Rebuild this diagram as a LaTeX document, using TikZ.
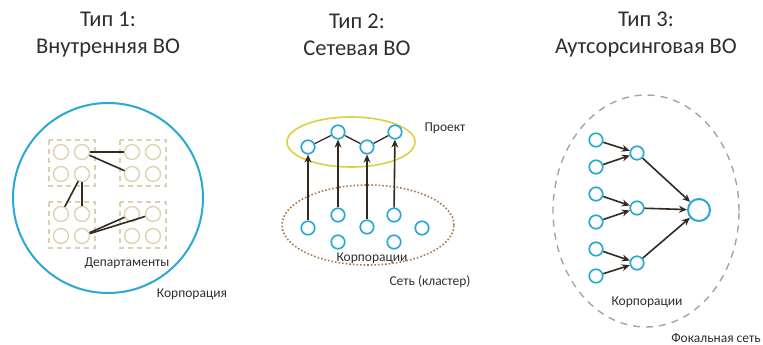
\documentclass[tikz,border=0pt]{standalone}
\usepackage{fontspec}
\setmainfont{Carlito}
\usetikzlibrary{arrows.meta}

\definecolor{cyanln}{HTML}{2AA8D2}
\definecolor{beigeln}{HTML}{DDD0AC}
\definecolor{darkln}{HTML}{35281F}
\definecolor{yellowln}{HTML}{DAD13E}
\definecolor{brownln}{HTML}{A97A4A}
\definecolor{greyln}{HTML}{A9A29D}
\definecolor{textc}{HTML}{2E2E2E}

\begin{document}
\begin{tikzpicture}[x=1pt, y=-1pt,
  title/.style={font=\fontsize{22.5}{27}\selectfont, align=center, text=textc},
  lbl/.style={font=\fontsize{13.5}{16}\selectfont, text=textc},
  unit/.style={circle, draw=cyanln, line width=1.7pt, minimum size=13.5pt, inner sep=0pt},
  dept/.style={circle, draw=beigeln, line width=1.3pt, minimum size=15pt, inner sep=0pt},
  link/.style={draw=darkln, line width=1.6pt},
  flow/.style={link, -{Stealth[length=8pt, width=7pt]}},
]
  \useasboundingbox (0,0) rectangle (763,345);
  % titles
  \node[title] (t1) at (108,35) {Тип 1:\\Внутренняя ВО};
  \node[title] (t2) at (357,35) {Тип 2:\\Сетевая ВО};
  \node[title] (t3) at (646,35) {Тип 3:\\Аутсорсинговая ВО};

  % Type 1: corporation with departments
  \draw[cyanln, line width=2pt] (108,198) circle [radius=95pt];
  \foreach \g/\ox/\oy in {A/61/152, B/132/152, C/61/214, D/132/214} {
    \draw[beigeln, line width=1.2pt, dash pattern=on 5pt off 4pt]
          (\ox-12,\oy-12) rectangle (\ox+34,\oy+34);
    \foreach \i in {1,2}
      \foreach \j in {1,2}
        \node[dept] (\g\i\j) at (\ox+21*\j-21, \oy+22*\i-22) {};
  }
  \draw[link] (A12) -- (B11);
  \draw[link] (A12) -- (B21);
  \draw[link] (A22) -- (C11);
  \draw[link] (A22) -- (C12);
  \draw[link] (C22) -- (D11);
  \draw[link] (C22) -- (D12);
  \node[lbl] (dep) at (127,263) {Департаменты};
  \node[lbl] (corp) at (192,294) {Корпорация};

  % Type 2: network, project
  \draw[yellowln, line width=1.6pt] (351,142) ellipse [x radius=64pt, y radius=25pt];
  \draw[brownln, line width=1.6pt, dotted] (368,225) ellipse [x radius=86pt, y radius=40pt];
  \node[unit] (p1) at (308,147) {};
  \node[unit] (p2) at (338,132) {};
  \node[unit] (p3) at (367,147) {};
  \node[unit] (p4) at (395,132) {};
  \draw[link, line width=1.3pt] (p1) -- (p2) -- (p3) -- (p4);
  \node[unit] (c1) at (308,228) {};
  \node[unit] (c2) at (338,215) {};
  \node[unit] (c3) at (338,242) {};
  \node[unit] (c4) at (367,227) {};
  \node[unit] (c5) at (394,215) {};
  \node[unit] (c6) at (394,242) {};
  \node[unit] (c7) at (422,228) {};
  \draw[flow] (c1) -- (p1);
  \draw[flow] (c2) -- (p2);
  \draw[flow] (c4) -- (p3);
  \draw[flow] (c5) -- (p4);
  \node[lbl] (proj) at (445,128) {Проект};
  \node[lbl] (corps2) at (372,258) {Корпорации};
  \node[lbl] (net) at (430,282) {Сеть (кластер)};

  % Type 3: focal network
  \draw[greyln, line width=1.4pt, dash pattern=on 7pt off 6pt] (646,211) ellipse [x radius=93pt, y radius=116pt];
  \foreach \k/\ly in {1/140, 2/167, 3/194, 4/222, 5/249, 6/276}
    \node[unit] (l\k) at (596,\ly) {};
  \node[unit] (m1) at (637,153) {};
  \node[unit] (m2) at (637,208) {};
  \node[unit] (m3) at (637,263) {};
  \node[unit, minimum size=22pt, line width=2pt] (foc) at (699,210) {};
  \draw[flow] (l1) -- (m1);
  \draw[flow] (l2) -- (m1);
  \draw[flow] (l3) -- (m2);
  \draw[flow] (l4) -- (m2);
  \draw[flow] (l5) -- (m3);
  \draw[flow] (l6) -- (m3);
  \draw[flow] (m1) -- (foc);
  \draw[flow] (m2) -- (foc);
  \draw[flow] (m3) -- (foc);
  \node[lbl] (corps3) at (647,302) {Корпорации};
  \node[lbl] (focal) at (716,338) {Фокальная сеть};
\end{tikzpicture}
\end{document}
